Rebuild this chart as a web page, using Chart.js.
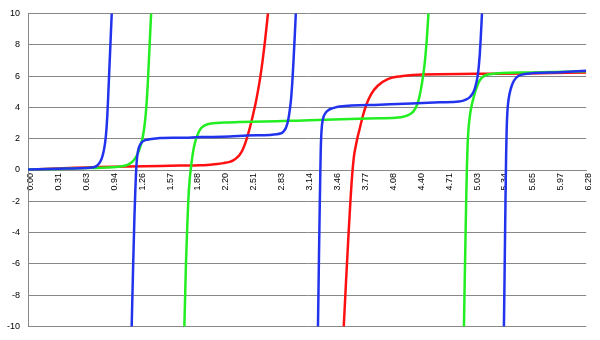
<!DOCTYPE html>
<html>
<head>
<meta charset="utf-8">
<script src="https://cdn.jsdelivr.net/npm/chart.js@4"></script>
<style>
  html, body { margin: 0; padding: 0; background: #fff; }
</style>
</head>
<body>
<canvas id="myChart" width="600" height="340"></canvas>
<script>
// tick labels of the category axis (every tenth of 2*pi)
const xTickLabels = ['0.00', '0.31', '0.63', '0.94', '1.26', '1.57', '1.88', '2.20', '2.51', '2.83',
  '3.14', '3.46', '3.77', '4.08', '4.40', '4.71', '5.03', '5.34', '5.65', '5.97', '6.28'];
const xMax = 6.2832;

// values (null = break at an asymptote)
const redX = [0, 0.337, 0.655, 0.81, 1.12, 1.71, 1.93, 2.05, 2.13, 2.20, 2.27, 2.31, 2.346, 2.383, 2.415, 2.44, 2.462,
  2.49, 2.515, 2.54, 2.565, 2.59, 2.615, 2.64, 2.665, 2.69, 2.715,
  3.10,
  3.545, 3.554, 3.572, 3.59, 3.609, 3.629, 3.642, 3.656, 3.672, 3.69, 3.71, 3.732, 3.769, 3.807, 3.863, 3.937, 4.05,
  4.20, 4.33, 4.442, 5.04, 5.61, 6.2832];
const redY = [0.03, 0.10, 0.16, 0.19, 0.23, 0.28, 0.30, 0.34, 0.38, 0.44, 0.52, 0.62, 0.76, 0.98, 1.28, 1.62, 2.00,
  2.55, 3.10, 3.70, 4.35, 5.10, 5.95, 6.95, 8.10, 9.40, 10.8,
  null,
  -11, -10, -8, -6, -4, -2, -0.85, 0.15, 1.00, 1.55, 2.10, 2.60, 3.45, 4.15, 4.85, 5.38, 5.80,
  5.99, 6.06, 6.10, 6.14, 6.17, 6.22];

const greenX = [0, 0.337, 0.655, 0.995, 1.071, 1.12, 1.16, 1.19, 1.215, 1.238, 1.258, 1.276, 1.292, 1.306, 1.318, 1.328,
  1.338, 1.348, 1.36, 1.375, 1.391, 1.40,
  1.58,
  1.755, 1.76, 1.769, 1.778, 1.79, 1.804, 1.82, 1.835, 1.85, 1.866, 1.882, 1.90, 1.92, 1.945, 1.975, 2.02, 2.083, 2.20,
  2.383, 2.95, 3.168, 3.725, 3.955, 4.165, 4.235, 4.28, 4.315, 4.34, 4.36, 4.378, 4.394, 4.408, 4.421, 4.434, 4.447,
  4.46, 4.474, 4.487, 4.50, 4.512, 4.52,
  4.71,
  4.903, 4.907, 4.916, 4.925, 4.933, 4.941, 4.949, 4.958, 4.968, 4.98, 4.995, 5.012, 5.032, 5.055, 5.08, 5.11, 5.15,
  5.20, 5.34, 5.63, 6.2832];
const greenY = [0.03, 0.07, 0.12, 0.19, 0.25, 0.33, 0.46, 0.62, 0.82, 1.08, 1.38, 1.72, 2.12, 2.60, 3.15, 3.75,
  4.50, 5.50, 6.90, 8.70, 10.6, 11.6,
  null,
  -11, -10, -8, -6, -4, -2, -0.6, 0.2, 0.85, 1.40, 1.80, 2.12, 2.40, 2.65, 2.80, 2.92, 2.99, 3.03,
  3.06, 3.14, 3.17, 3.27, 3.30, 3.35, 3.42, 3.50, 3.62, 3.76, 3.93, 4.15, 4.42, 4.74, 5.10, 5.52, 6.00,
  6.55, 7.30, 8.20, 9.30, 10.4, 11.2,
  null,
  -11, -10, -7, -4.2, -1.8, 0.3, 1.70, 2.60, 3.20, 3.70, 4.15, 4.55, 4.95, 5.35, 5.67, 5.90, 6.05,
  6.12, 6.20, 6.23, 6.30];

const blueX = [0, 0.337, 0.576, 0.696, 0.74, 0.77, 0.795, 0.815, 0.832, 0.846, 0.858, 0.868, 0.877, 0.885, 0.893,
  0.902, 0.914, 0.929, 0.944, 0.952,
  1.06,
  1.163, 1.167, 1.184, 1.198, 1.207, 1.215, 1.223, 1.232, 1.244, 1.26, 1.28, 1.30, 1.33, 1.37, 1.43, 1.485, 1.715,
  1.935, 2.27, 2.46, 2.72, 2.80, 2.84, 2.865, 2.885, 2.90, 2.913, 2.925, 2.936, 2.946, 2.955, 2.965, 2.975, 2.988,
  3.003, 3.018, 3.03,
  3.14,
  3.26, 3.264, 3.274, 3.282, 3.289, 3.295, 3.301, 3.308, 3.316, 3.327, 3.34, 3.357, 3.38, 3.41, 3.45, 3.509, 3.957,
  4.316, 4.635, 4.85, 4.90, 4.94, 4.97, 4.995, 5.015, 5.032, 5.046, 5.058, 5.068, 5.077, 5.086, 5.095, 5.105, 5.115, 5.125,
  5.24,
  5.353, 5.357, 5.367, 5.375, 5.382, 5.388, 5.395, 5.404, 5.415, 5.428, 5.445, 5.465, 5.49, 5.52, 5.56, 5.66, 5.98, 6.2832];
const blueY = [0.03, 0.08, 0.11, 0.14, 0.18, 0.25, 0.38, 0.55, 0.78, 1.05, 1.38, 1.75, 2.20, 2.75, 3.50,
  4.60, 6.20, 8.20, 10.2, 11.3,
  null,
  -11, -10, -6, -3, -1.5, -0.3, 0.5, 1.00, 1.35, 1.60, 1.76, 1.85, 1.92, 1.97, 2.01, 2.04, 2.06,
  2.10, 2.14, 2.20, 2.24, 2.28, 2.33, 2.40, 2.52, 2.66, 2.85, 3.10, 3.42, 3.82, 4.20, 4.80, 5.60, 6.90,
  8.60, 10.4, 11.8,
  null,
  -11, -10, -6, -3, -0.6, 1.20, 2.20, 2.80, 3.15, 3.40, 3.56, 3.70, 3.82, 3.91, 3.98, 4.06, 4.17,
  4.24, 4.32, 4.38, 4.43, 4.52, 4.64, 4.80, 5.00, 5.25, 5.55, 5.90, 6.30, 6.80, 7.45, 8.30, 9.40, 10.6, 11.8,
  null,
  -11, -10, -5.5, -1.8, 1.00, 2.60, 3.60, 4.25, 4.70, 5.05, 5.38, 5.65, 5.86, 6.00, 6.09, 6.17, 6.24, 6.33];

const toPoints = (xs, ys) => xs.map((x, i) => ({ x: x, y: ys[i] }));

const font = { family: 'Liberation Sans', size: 9 };

const ctx = document.getElementById('myChart').getContext('2d');
const chart = new Chart(ctx, {
  type: 'line',
  data: {
    datasets: [
      { label: 'red', data: toPoints(redX, redY), borderColor: '#ff1010', order: 2 },
      { label: 'green', data: toPoints(greenX, greenY), borderColor: '#22ee22', order: 1 },
      { label: 'blue', data: toPoints(blueX, blueY), borderColor: '#2233ee', order: 0 }
    ]
  },
  options: {
    responsive: false,
    animation: false,
    layout: { padding: { left: 0, right: 13, top: 12, bottom: 13 } },
    plugins: { legend: { display: false }, tooltip: { enabled: false } },
    elements: {
      point: { radius: 0 },
      line: { borderWidth: 2.5, cubicInterpolationMode: 'monotone', fill: false }
    },
    scales: {
      x: {
        type: 'linear',
        min: 0,
        max: xMax,
        position: { y: 0 },
        grid: { display: false, drawTicks: false },
        border: { color: '#888', width: 1 },
        afterBuildTicks: s => {
          s.ticks = xTickLabels.map((_, i) => ({ value: i * xMax / (xTickLabels.length - 1) }));
        },
        ticks: {
          autoSkip: false,
          minRotation: 90,
          maxRotation: 90,
          padding: 3,
          labelOffset: 2.5,
          color: '#000',
          font: font,
          callback: (v, i) => xTickLabels[i]
        }
      },
      y: {
        min: -10,
        max: 10,
        afterFit: s => { s.width = 28; },
        grid: { color: '#888', drawTicks: false },
        border: { color: '#888' },
        ticks: { stepSize: 2, padding: 8, color: '#000', font: font }
      }
    }
  }
});
</script>
</body>
</html>
